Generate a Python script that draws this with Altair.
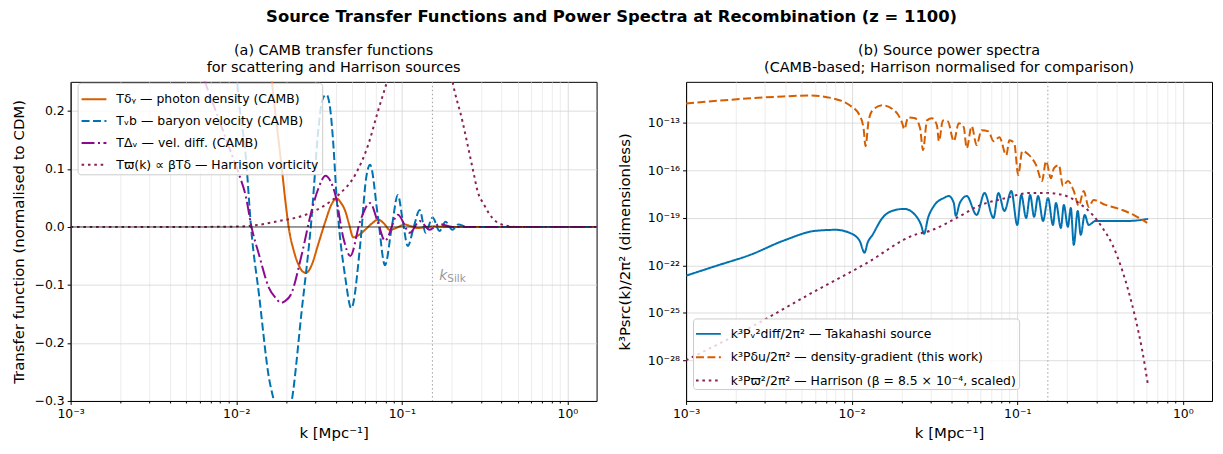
import altair as alt
import numpy as np
import pandas as pd

FONT = "DejaVu Sans"

# ---------------- data ----------------
k_silk = 0.153
silk_label_T = -0.091

# (a) CAMB transfer functions (normalised to CDM)
k_photon = [1.0e-3, 3.0e-3, 6.0e-3, 1.0e-2, 1.373e-2, 1.54e-2, 1.643e-2, 1.75e-2, 1.886e-2, 2.0e-2,
            2.077e-2, 2.225e-2, 2.384e-2, 2.5e-2, 2.625e-2, 2.75e-2, 2.852e-2, 3.141e-2, 3.459e-2, 3.75e-2,
            4.026e-2, 4.3e-2, 4.559e-2, 4.8e-2, 5.09e-2, 5.5e-2, 6.0e-2, 6.6e-2, 7.18e-2, 7.8e-2,
            8.45e-2, 9.4e-2, 0.104, 0.114, 0.125, 0.14, 0.155, 0.18, 0.25, 0.5, 1.5]
T_photon = [1.20, 1.12, 0.98, 0.70, 0.44, 0.35, 0.25, 0.18, 0.10, 0.034,
            -0.002, -0.041, -0.066, -0.076, -0.079, -0.075, -0.066, -0.028, 0.010, 0.038,
            0.049, 0.041, 0.027, 0.005, -0.018, -0.014, -0.005, 0.006, 0.0126, 0.006,
            -0.005, -0.001, 0.004, 0.001, -0.002, 0.0, 0.001, 0.0, 0.0, 0.0, 0.0]

k_baryon = [1.0e-3, 3.0e-3, 6.0e-3, 8.5e-3, 9.6e-3, 1.014e-2, 1.148e-2, 1.23e-2, 1.373e-2, 1.576e-2,
            1.689e-2, 1.81e-2, 1.91e-2, 2.02e-2, 2.164e-2, 2.484e-2, 2.852e-2, 3.141e-2, 3.319e-2, 3.507e-2,
            3.706e-2, 3.863e-2, 4.026e-2, 4.559e-2, 4.952e-2, 5.605e-2, 6.087e-2, 6.432e-2, 7.184e-2, 7.911e-2,
            8.7e-2, 9.464e-2, 0.1014, 0.1086, 0.1181, 0.1282, 0.1392, 0.1533, 0.1689, 0.1834,
            0.2021, 0.219, 0.248, 0.4, 1.5]
T_baryon = [1.00, 0.98, 0.85, 0.55, 0.36, 0.25, 0.114, -0.002, -0.117, -0.26,
            -0.30, -0.34, -0.355, -0.34, -0.30, -0.145, 0.016, 0.171, 0.22, 0.228,
            0.20, 0.14, 0.056, -0.088, -0.14, -0.031, 0.084, 0.107, 0.016, -0.066,
            0.0, 0.055, 0.01, -0.033, 0.0, 0.029, -0.010, 0.016, -0.007, 0.009,
            -0.005, 0.004, 0.0, 0.0, 0.0]

k_veldiff = [1.0e-3, 3.0e-3, 5.0e-3, 6.0e-3, 6.43e-3, 7.91e-3, 9.08e-3, 1.042e-2, 1.148e-2, 1.23e-2,
             1.373e-2, 1.576e-2, 1.75e-2, 1.86e-2, 1.97e-2, 2.135e-2, 2.484e-2, 2.852e-2, 3.141e-2, 3.459e-2,
             3.706e-2, 3.971e-2, 4.435e-2, 4.884e-2, 5.605e-2, 6.432e-2, 7.184e-2, 7.911e-2, 9.464e-2, 0.1117,
             0.1282, 0.147, 0.1689, 0.202, 0.3, 1.5]
T_veldiff = [0.80, 0.60, 0.36, 0.275, 0.252, 0.183, 0.136, 0.090, 0.050, 0.003,
             -0.048, -0.105, -0.124, -0.131, -0.128, -0.117, -0.048, 0.028, 0.067, 0.088,
             0.079, 0.055, -0.019, -0.050, 0.010, 0.041, 0.007, -0.024, 0.021, -0.010,
             0.010, -0.005, 0.005, 0.0, 0.0, 0.0]

k_harr_T = [1e-3, 3e-3, 6e-3, 1e-2, 1.23e-2, 1.809e-2, 2.625e-2, 3.459e-2, 4.139e-2, 5.232e-2,
            6.257e-2, 7.184e-2, 8.246e-2, 9.464e-2, 0.1164, 0.1431, 0.1761, 0.2021, 0.2319, 0.2554,
            0.2736, 0.2852, 0.3141, 0.3507, 0.4139, 0.4952, 0.7, 1.5]
T_harr = [0.0, 0.0, 0.0, 0.0005, 0.002, 0.010, 0.021, 0.038, 0.055, 0.090,
          0.141, 0.200, 0.257, 0.33, 0.42, 0.44, 0.37, 0.252, 0.183, 0.128,
          0.088, 0.064, 0.038, 0.016, 0.003, 0.0, 0.0, 0.0]

# (b) source power spectra, stored as log10 of k^3 P / 2 pi^2
k_vdiff = [1e-3, 1.533e-3, 2.45e-3, 3.86e-3, 6.087e-3, 8.02e-3, 9.73e-3, 1.117e-2, 1.196e-2, 1.247e-2,
           1.336e-2, 1.533e-2, 1.834e-2, 2.077e-2, 2.416e-2, 2.625e-2, 2.736e-2, 2.892e-2, 3.141e-2, 3.605e-2,
           3.863e-2, 4.139e-2, 4.253e-2, 4.496e-2, 4.952e-2, 5.683e-2, 6.344e-2, 7.184e-2, 7.695e-2, 8.36e-2,
           9.21e-2, 0.1, 0.1057, 0.1132, 0.1196, 0.1264, 0.1336, 0.1431, 0.1533, 0.1643,
           0.1712, 0.1834, 0.1911, 0.2021, 0.2106, 0.2194, 0.2319, 0.2417, 0.2554, 0.2698,
           0.2973, 0.4685, 0.6172]
log10_P_vdiff = [-22.65, -22.02, -21.33, -20.45, -19.82, -19.76, -19.95, -20.45, -21.20, -20.58,
                 -20.08, -19.01, -18.51, -18.44, -18.82, -19.45, -20.01, -19.01, -18.25, -17.75,
                 -17.63, -18.07, -18.88, -18.07, -17.63, -18.82, -17.44, -19.01, -17.44, -18.57,
                 -17.31, -19.45, -17.56, -19.01, -17.56, -18.94, -17.63, -19.20, -17.75, -19.45,
                 -18.07, -19.64, -18.19, -19.57, -18.38, -20.70, -18.57, -20.08, -18.82, -19.45,
                 -19.20, -19.20, -19.07]

k_du = [1e-3, 2.45e-3, 3.86e-3, 5.61e-3, 7.69e-3, 9.73e-3, 1.117e-2, 1.18e-2, 1.213e-2, 1.264e-2,
        1.336e-2, 1.533e-2, 1.834e-2, 2.02e-2, 2.077e-2, 2.194e-2, 2.416e-2, 2.589e-2, 2.698e-2, 2.852e-2,
        3.055e-2, 3.273e-2, 3.365e-2, 3.556e-2, 3.809e-2, 4.139e-2, 4.435e-2, 4.751e-2, 4.952e-2, 5.305e-2,
        5.683e-2, 6.087e-2, 6.705e-2, 7.184e-2, 7.80e-2, 8.59e-2, 8.96e-2, 9.59e-2, 0.1014, 0.1072,
        0.118, 0.13, 0.1411, 0.1492, 0.1598, 0.1666, 0.1784, 0.1886, 0.2021, 0.2194,
        0.2351, 0.2519, 0.2698, 0.2891, 0.3411, 0.4312, 0.5159, 0.6087]
log10_P_du = [-11.79, -11.47, -11.35, -11.29, -11.47, -11.91, -12.54, -13.36, -14.49, -12.92,
              -12.23, -11.91, -12.29, -13.04, -13.42, -12.67, -12.73, -13.36, -14.74, -12.86,
              -12.73, -13.17, -14.17, -12.86, -12.92, -14.17, -13.04, -13.29, -14.61, -13.23,
              -14.42, -13.48, -13.55, -14.17, -13.92, -15.05, -14.11, -14.30, -16.31, -14.80,
              -15.05, -15.68, -16.68, -15.43, -16.50, -15.87, -15.68, -17.0, -16.68, -17.31,
              -18.25, -17.31, -18.32, -17.88, -18.19, -18.51, -18.88, -19.32]

k_harr_P = [1e-3, 2.45e-3, 6.087e-3, 1.213e-2, 2.416e-2, 2.972e-2, 4.312e-2, 5.841e-2, 8.59e-2, 0.118,
            0.1492, 0.1886, 0.2351, 0.2852, 0.3273, 0.3757, 0.4312, 0.4685, 0.5159, 0.5683, 0.6172]
log10_P_harr = [-27.98, -25.91, -23.59, -21.90, -20.07, -19.82, -19.01, -18.25, -17.75, -17.44,
                -17.44, -17.56, -18.07, -18.82, -19.64, -20.70, -22.34, -23.59, -25.29, -27.36, -29.62]

names_a = ["Tδᵧ — photon density (CAMB)",
           "Tᵥb — baryon velocity (CAMB)",
           "TΔᵥ — vel. diff. (CAMB)",
           "Tϖ(k) ∝ βTδ — Harrison vorticity"]
names_b = ["k³Pᵥ²diff/2π² — Takahashi source",
           "k³Pδu/2π² — density-gradient (this work)",
           "k³Pϖ²/2π² — Harrison (β = 8.5 × 10⁻⁴, scaled)"]

C_ORANGE, C_BLUE, C_PURPLE, C_WINE = "#d55e00", "#0072b2", "#8b0a8f", "#882255"
DASH_SOLID, DASH_DASHED, DASH_DASHDOT, DASH_DOT = [1, 0], [8, 3.5], [13, 3.5, 2, 3.5], [2.6, 3.8]


def frame(ks, vs, name):
    return pd.DataFrame({"k": ks, "v": vs, "series": name})


df_a = pd.concat([frame(k_photon, T_photon, names_a[0]),
                  frame(k_baryon, T_baryon, names_a[1]),
                  frame(k_veldiff, T_veldiff, names_a[2]),
                  frame(k_harr_T, T_harr, names_a[3])], ignore_index=True)
df_b = pd.concat([frame(k_vdiff, 10.0 ** np.array(log10_P_vdiff), names_b[0]),
                  frame(k_du, 10.0 ** np.array(log10_P_du), names_b[1]),
                  frame(k_harr_P, 10.0 ** np.array(log10_P_harr), names_b[2])], ignore_index=True)

# ---------------- axes helpers ----------------
SUP = {"-": "⁻", "0": "⁰", "1": "¹", "2": "²", "3": "³", "4": "⁴",
       "5": "⁵", "6": "⁶", "7": "⁷", "8": "⁸", "9": "⁹"}


def pow_label(e):
    return "10" + "".join(SUP[c] for c in str(e))


LOGV = "(log(datum.value)/LN10)"
IS_DEC = f"abs({LOGV} - round({LOGV})) < 0.001"


def pow_expr(exps):
    expr = "''"
    for e in exps:
        expr = f"(round({LOGV}) == {e} ? '{pow_label(e)}' : {expr})"
    return f"({IS_DEC}) ? {expr} : ''"


x_ticks = [m * 10.0 ** e for e in range(-3, 1) for m in range(1, 10) if m * 10.0 ** e <= 1.5]
x_domain = [1e-3, 1.5]
T_ticks = [-0.3, -0.2, -0.1, 0.0, 0.1, 0.2]
T_domain = [-0.3, 0.25]
P_ticks = [1e-28, 1e-25, 1e-22, 1e-19, 1e-16, 1e-13]
P_domain = [10 ** -30.55, 10 ** -10.43]

GRID_MAJOR, GRID_MINOR = "#d4d4d4", "#e8e8e8"


def x_axis():
    return alt.Axis(values=x_ticks, labelExpr=pow_expr([-3, -2, -1, 0]), title="k [Mpc⁻¹]",
                    labelOverlap=False, labelFlush=False,
                    tickSize={"condition": {"test": IS_DEC, "value": 3.5}, "value": 2},
                    gridColor={"condition": {"test": IS_DEC, "value": GRID_MAJOR}, "value": GRID_MINOR},
                    labelPadding=3, titlePadding=6)


def legend(y, pad, row_pad):
    return alt.Legend(title=None, orient="none", legendX=7, legendY=y, symbolType="stroke",
                      symbolSize=625, symbolStrokeWidth=2, labelFont=FONT, labelFontSize=12.5,
                      labelColor="black", labelLimit=600, fillColor="rgba(255,255,255,0.8)",
                      strokeColor="#cccccc", cornerRadius=3, padding=pad, rowPadding=row_pad,
                      labelOffset=9)


W, H = 529, 321
LEG_A = legend(1, 3, 2)
LEG_B = legend(238, 2, 3.5)

# ---------------- panel (a) ----------------
lines_a = alt.Chart(df_a).mark_line(clip=True, interpolate="monotone").encode(
    x=alt.X("k:Q", scale=alt.Scale(type="log", domain=x_domain, nice=False), axis=x_axis()),
    y=alt.Y("v:Q", scale=alt.Scale(domain=T_domain, nice=False, zero=False),
            axis=alt.Axis(values=T_ticks, format=".1f", title="Transfer function (normalised to CDM)",
                          gridColor=GRID_MAJOR, tickSize=3.5, labelPadding=3, titlePadding=8)),
    color=alt.Color("series:N", scale=alt.Scale(domain=names_a, range=[C_ORANGE, C_BLUE, C_PURPLE, C_WINE]),
                    legend=LEG_A),
    strokeDash=alt.StrokeDash("series:N", scale=alt.Scale(domain=names_a,
                              range=[DASH_SOLID, DASH_DASHED, DASH_DASHDOT, DASH_DOT]), legend=LEG_A),
    strokeWidth=alt.StrokeWidth("series:N", scale=alt.Scale(domain=names_a, range=[2.0, 2.0, 2.2, 2.6]),
                                legend=None),
)

zero_a = alt.Chart(pd.DataFrame({"v": [0.0]})).mark_rule(color="black", strokeWidth=0.7).encode(y="v:Q")
silk_df = pd.DataFrame({"k": [k_silk], "v": [silk_label_T]})
silk_a = alt.Chart(silk_df).mark_rule(color="#a0a0a0", strokeWidth=1, strokeDash=[1.5, 2.5]).encode(x="k:Q")
silk_k = alt.Chart(silk_df).mark_text(text="k", font=FONT, fontSize=14, fontStyle="italic", color="#999999",
                                      align="left", baseline="alphabetic", dx=7).encode(x="k:Q", y="v:Q")
silk_sub = alt.Chart(silk_df).mark_text(text="Silk", font=FONT, fontSize=10.5, color="#999999",
                                        align="left", baseline="alphabetic", dx=15, dy=2).encode(x="k:Q", y="v:Q")

panel_a = alt.layer(lines_a, zero_a, silk_a, silk_k, silk_sub).properties(
    width=W, height=H,
    title=alt.TitleParams(["(a) CAMB transfer functions", "for scattering and Harrison sources"],
                          font=FONT, fontSize=14.5, fontWeight="normal", lineHeight=17, offset=6, color="black"))

# ---------------- panel (b) ----------------
lines_b = alt.Chart(df_b).mark_line(clip=True, interpolate="monotone").encode(
    x=alt.X("k:Q", scale=alt.Scale(type="log", domain=x_domain, nice=False), axis=x_axis()),
    y=alt.Y("v:Q", scale=alt.Scale(type="log", domain=P_domain, nice=False),
            axis=alt.Axis(values=P_ticks, labelExpr=pow_expr([-28, -25, -22, -19, -16, -13]),
                          title="k³Psrc(k)/2π² (dimensionless)", gridColor=GRID_MAJOR,
                          tickSize=3.5, labelPadding=3, titlePadding=15, labelOverlap=False)),
    color=alt.Color("series:N", scale=alt.Scale(domain=names_b, range=[C_BLUE, C_ORANGE, C_WINE]),
                    legend=LEG_B),
    strokeDash=alt.StrokeDash("series:N", scale=alt.Scale(domain=names_b,
                              range=[DASH_SOLID, DASH_DASHED, DASH_DOT]), legend=LEG_B),
    strokeWidth=alt.StrokeWidth("series:N", scale=alt.Scale(domain=names_b, range=[2.0, 2.0, 2.6]),
                                legend=None),
)
silk_b = alt.Chart(pd.DataFrame({"k": [k_silk]})).mark_rule(
    color="#a0a0a0", strokeWidth=1, strokeDash=[1.5, 2.5]).encode(x="k:Q")

panel_b = alt.layer(lines_b, silk_b).properties(
    width=W, height=H,
    title=alt.TitleParams(["(b) Source power spectra", "(CAMB-based; Harrison normalised for comparison)"],
                          font=FONT, fontSize=14.5, fontWeight="normal", lineHeight=17, offset=6, color="black"))

chart = alt.hconcat(panel_a, panel_b, spacing=19).resolve_scale(
    color="independent", strokeDash="independent", strokeWidth="independent",
    x="independent", y="independent"
).properties(
    title=alt.TitleParams("Source Transfer Functions and Power Spectra at Recombination (z = 1100)",
                          font=FONT, fontSize=16.5, fontWeight="bold", anchor="middle", offset=17, color="black"),
    padding={"left": 2, "top": 0, "right": 2, "bottom": 0},
    background="white",
).configure_view(stroke="black", strokeWidth=1).configure_axis(
    labelFont=FONT, labelFontSize=12.5, labelColor="black", titleFont=FONT, titleFontSize=15,
    titleFontWeight="normal", titleColor="black", domainColor="black", tickColor="black",
    gridWidth=0.8,
).configure_legend(labelFont=FONT)

chart.save("out.html", embed_options={"renderer": "svg", "actions": False})
